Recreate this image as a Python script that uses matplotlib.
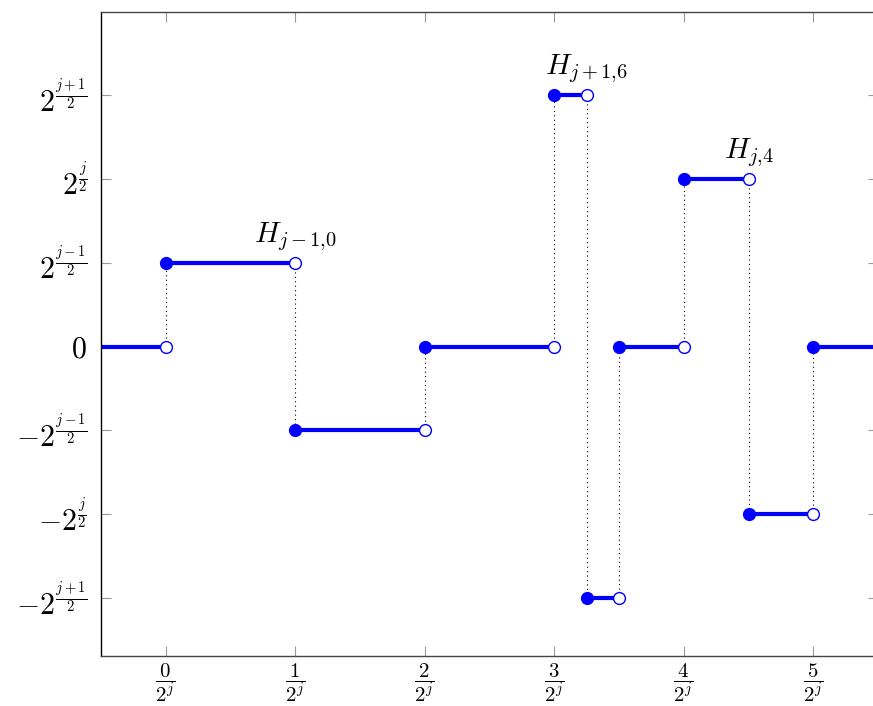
import matplotlib
matplotlib.use("Agg")
from matplotlib import pyplot

pyplot.rcParams['mathtext.fontset'] = 'cm'
pyplot.rcParams['font.family'] = 'serif'
pyplot.rcParams['font.serif'] = ['DejaVu Serif']

# step function: segment k runs from edges[k] to edges[k+1] at level values[k]
edges = [-0.5, 0, 1, 2, 3, 3.25, 3.5, 4, 4.5, 5, 5.5]
values = [0, 1, -1, 0, 3, -3, 0, 2, -2, 0]

x_ticks = [0, 1, 2, 3, 4, 5]
x_labels = [r'$\dfrac{%d}{2^j}$' % k for k in x_ticks]
y_ticks = [-3, -2, -1, 0, 1, 2, 3]
y_labels = [r'$-2^{\frac{j+1}{2}}$', r'$-2^{\frac{j}{2}}$', r'$-2^{\frac{j-1}{2}}$', r'$0$',
            r'$2^{\frac{j-1}{2}}$', r'$2^{\frac{j}{2}}$', r'$2^{\frac{j+1}{2}}$']

# labels: (x, y, text)
annots = [(1, 1, r'$H_{j-1{,}0}$'), (3.25, 3, r'$H_{j+1{,}6}$'), (4.5, 2, r'$H_{j{,}4}$')]

blue = '#0000ff'
fig = pyplot.figure(figsize=(8.73, 7.06), dpi=100)
ax = fig.add_axes([101/873, 50/706, 777/873, 644/706])

# dotted jumps
for k in range(1, len(values)):
    ax.plot([edges[k], edges[k]], [values[k-1], values[k]], color='black', lw=0.8,
            linestyle=(0, (1, 3)), zorder=1)

# segments
for k in range(len(values)):
    ax.plot([edges[k], edges[k+1]], [values[k], values[k]], color=blue, lw=3, zorder=2,
            solid_capstyle='butt')

# filled start points, open end points
ax.plot(edges[1:-1], values[1:], 'o', color=blue, ms=8.5, zorder=3)
ax.plot(edges[1:-1], values[:-1], 'o', mfc='white', mec=blue, mew=1.0, ms=8.5, zorder=4)

for x, y, t in annots:
    ax.annotate(t, (x, y), textcoords='offset points', xytext=(0, 7), ha='center',
                va='bottom', fontsize=21)

ax.set_xlim(-0.5, 5.5)
ax.set_ylim(-3.69, 3.99)
ax.set_xticks(x_ticks)
ax.set_xticklabels(x_labels, fontsize=15)
ax.set_yticks(y_ticks)
ax.set_yticklabels(y_labels, fontsize=21.5)
ax.tick_params(direction='in', length=7.5, width=0.8, color='#999999',
               top=True, right=True, pad=10)
ax.tick_params(axis='x', pad=4)
for s in ax.spines.values():
    s.set_color('#444444')
    s.set_linewidth(1.0)
ax.spines['left'].set_color('black')

pyplot.savefig('out.png', dpi=100)
